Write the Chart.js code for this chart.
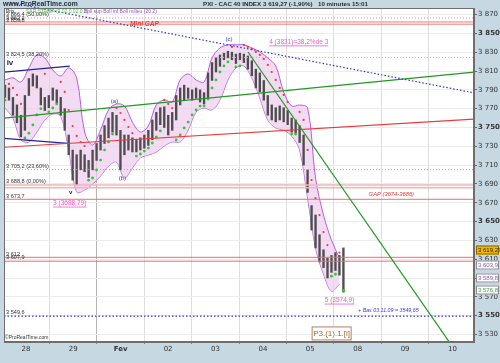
<!DOCTYPE html>
<html>
<head>
<meta charset="utf-8">
<title>PXI - CAC 40 INDEX 10 minutes</title>
<script src="https://cdn.jsdelivr.net/npm/chart.js@4.4.1/dist/chart.umd.min.js"></script>
<style>
  html, body { margin: 0; padding: 0; background: #c6d9e2; }
  canvas { display: block; }
</style>
</head>
<body>
<canvas id="chart" width="500" height="363"></canvas>
<script>
// CAC 40 (PXI) en 10 minutes, du 28 janv. au 05 fev. 15:01
// axe x = jours de bourse depuis le 28 (0 = 28, 1 = 29, 2 = Fev ...)

const dayLabels = ['28', '29', 'Fev', '02', '03', '04', '05', '08', '09', '10'];
const xMin = -0.462, xMax = 9.454;
const yMin = 3522, yMax = 3877;

// prix : plus haut / plus bas par pas de temps
const barStart = -0.441;
const barStep = 0.084;
const highs = [3795, 3792, 3782, 3774, 3763, 3784, 3802, 3807, 3805, 3792,
  3782, 3784, 3792, 3790, 3782, 3770, 3742, 3726, 3721, 3726,
  3721, 3715, 3726, 3733, 3742, 3752, 3760, 3766, 3763, 3747,
  3742, 3742, 3739, 3737, 3739, 3742, 3747, 3758, 3766, 3771,
  3772, 3763, 3766, 3784, 3792, 3795, 3792, 3790, 3792, 3790,
  3787, 3808, 3819, 3824, 3827, 3829, 3831, 3830, 3828, 3829,
  3828, 3826, 3821, 3812, 3808, 3800, 3784, 3774, 3771, 3773,
  3771, 3768, 3760, 3758, 3752, 3742, 3705, 3667, 3657, 3636,
  3620, 3611, 3614, 3617, 3614, 3622];
const lows = [3782, 3779, 3763, 3755, 3740, 3747, 3784, 3794, 3792, 3774,
  3768, 3771, 3779, 3776, 3763, 3747, 3721, 3694, 3689, 3705,
  3703, 3697, 3705, 3715, 3726, 3733, 3739, 3745, 3742, 3705,
  3721, 3726, 3724, 3724, 3726, 3728, 3731, 3737, 3747, 3753,
  3750, 3742, 3747, 3758, 3774, 3779, 3781, 3779, 3781, 3777,
  3775, 3781, 3800, 3809, 3815, 3822, 3824, 3822, 3818, 3822,
  3819, 3812, 3805, 3792, 3788, 3779, 3763, 3758, 3756, 3758,
  3756, 3753, 3745, 3744, 3734, 3710, 3681, 3641, 3622, 3607,
  3601, 3590, 3596, 3598, 3593, 3575];

// Bollinger (20,2), un point tous les deux pas
const bollSup = [3800.5, 3802.7, 3798.4, 3813.3, 3827.1, 3823.9, 3811.2, 3804.8, 3813.3, 3802.7,
  3745.2, 3731.4, 3747.3, 3768.6, 3775.0, 3772.8, 3755.8, 3745.2, 3751.6, 3773.9,
  3779.3, 3777.1, 3800.5, 3806.9, 3800.5, 3798.4, 3823.9, 3834.6, 3837.8, 3837.8,
  3837.8, 3834.6, 3830.3, 3823.9, 3815.4, 3787.7, 3772.8, 3773.9, 3770.7, 3696.3,
  3656.9, 3630.3, 3611.2];
const bollInf = [3770.7, 3760.1, 3736.7, 3734.6, 3745.2, 3758.0, 3764.4, 3762.2, 3726.1, 3681.4,
  3683.5, 3689.9, 3698.4, 3709.0, 3713.3, 3696.3, 3706.9, 3717.6, 3720.7, 3723.9,
  3730.3, 3734.6, 3734.6, 3747.3, 3766.5, 3770.7, 3768.6, 3779.3, 3800.5, 3813.3,
  3815.4, 3802.7, 3781.4, 3758.0, 3749.5, 3747.3, 3740.9, 3726.1, 3675.0, 3621.8,
  3594.1, 3576.0, 3583.5];

// SAR parabolique (0.02 0.02 0.2)
const sar = [3779, 3796.3, 3792, 3784.6, 3775, 3738.8, 3744, 3752.7, 3763.3, 3770,
  3807, 3766.5, 3770.7, 3775, 3798.4, 3787.8, 3768.6, 3751.6, 3741, 3734.6,
  3730.3, 3694, 3696.3, 3704.8, 3715.4, 3726.1, 3734.6, 3743, 3770.7, 3765.4,
  3758, 3750.5, 3744, 3719.6, 3721.8, 3724.9, 3728.1, 3733.5, 3739.9, 3746.3,
  3779.3, 3775, 3770.7, 3736.7, 3742, 3749.5, 3755.8, 3763.3, 3768.6, 3772.8,
  3773, 3780.3, 3792, 3800.5, 3809, 3815.4, 3819.7, 3835.6, 3814.4, 3815.4,
  3837.8, 3835.6, 3833.5, 3830.3, 3827.1, 3822.9, 3816.5, 3809, 3800.5, 3792,
  3784.6, 3777.1, 3743, 3743, 3766.5, 3758, 3726.1, 3694.1, 3675, 3656.9,
  3638.8, 3625, 3592, 3594, 3617, 3576.8];

// niveaux horizontaux
const levelValues = [3866.4, 3862.2, 3859.8, 3824.5, 3705.2, 3688.8, 3686, 3673.7, 3612, 3607.9, 3549.6];
const levelLabels = ['3 866,4 (50,00%)', '3 862,2', '3 859,8', '3 824,5 (38,20%)', '3 705,2 (23,60%)',
  '3 688,8 (0,00%)', '', '3 673,7', '3 612', '3 607,9', '3 549,6'];

// droites de tendance (jour debut, jour fin) / (prix debut, prix fin)
const trendDays = [[-0.336, 9.454], [-0.462, 9.454], [-0.462, 9.454], [4.685, 8.946], [-0.462, 0.924], [-0.462, 0.882]];
const trendPrices = [[3882.9, 3786.8], [3759.9, 3808.9], [3729, 3758.8], [3830.2, 3521], [3808.9, 3815.3], [3738.5, 3733.2]];

// textes sur le graphique
const noteTexts = ['(c)', '(a)', '(b)', 'iv', 'v', '3 (3688,79)', '4 (3831)=38,2%de 3', '5 (3574,9)',
  'GAP (3674-3686)', 'Mini GAP', '+ Bas 03.11.09 = 3549,65'];
const noteDays = [4.286, 1.870, 2.038, -0.336, 0.945, 0.924, 5.756, 6.618, 7.710, 2.5, 7.647];
const notePrices = [3844.1, 3778.2, 3696.1, 3818.6, 3680.9, 3669.6, 3840.9, 3566.5, 3679.3, 3860.1, 3555.6];

// valeurs courantes sur l'axe de droite
const lastValues = [3619.27, 3603.9, 3589.8, 3576.8];
const lastLabels = ['3 619,27', '3 603,9', '3 589,8', '3 576,8'];

// ---- styles ----
const levelStyles = [
  { color: '#ff7cc4', dash: [1, 2], width: 1 },
  { color: '#f07878', dash: [], width: 1 },
  { color: '#f07878', dash: [], width: 1 },
  { color: '#ff8ccc', dash: [1, 2], width: 1 },
  { color: '#d49a5a', dash: [1, 2], width: 1 },
  { color: '#f5b3b3', dash: [], width: 1.5 },
  { color: '#f5b3b3', dash: [], width: 1.5 },
  { color: '#f06c6c', dash: [], width: 1 },
  { color: '#f06c6c', dash: [], width: 1 },
  { color: '#f06c6c', dash: [], width: 1 },
  { color: '#2f2fe6', dash: [1.5, 2], width: 1.2 }
];
const trendStyles = [
  { color: '#3434c8', dash: [1.5, 2], width: 1.2 },
  { color: '#1f9a1f', dash: [], width: 1.2 },
  { color: '#e83c3c', dash: [], width: 1.2 },
  { color: '#1f9a1f', dash: [], width: 1.2 },
  { color: '#22229a', dash: [], width: 1.2 },
  { color: '#22229a', dash: [], width: 1.2 }
];
const pink = '#f25cc0';
const noteStyles = [
  { font: '6px "Liberation Sans"', color: '#3444b8' },
  { font: '6px "Liberation Sans"', color: '#3444b8' },
  { font: '6px "Liberation Sans"', color: '#3444b8' },
  { font: 'bold 8px "Liberation Sans"', color: '#1c1c60' },
  { font: 'bold 6px "Liberation Sans"', color: '#222' },
  { font: '6.5px "Liberation Sans"', color: pink, underline: true },
  { font: '6.5px "Liberation Sans"', color: pink, underline: true },
  { font: '6.5px "Liberation Sans"', color: pink, underline: true },
  { font: 'italic 5.8px "Liberation Sans"', color: '#e03a3a' },
  { font: 'italic bold 6.5px "Liberation Sans"', color: '#e83a3a' },
  { font: 'italic 5.3px "Liberation Sans"', color: '#3a3ae0' }
];
const lastStyles = [
  { fill: '#f2b600', stroke: '#8a6a00', text: '#222' },
  { fill: '#fff', stroke: '#8a8a8a', text: '#a050c8' },
  { fill: '#fff', stroke: '#8a8a8a', text: '#a050c8' },
  { fill: '#fff', stroke: '#8a8a8a', text: '#3aa83a' }
];

function fmt(v) { return String(v).replace(/\B(?=(\d{3})+(?!\d))/g, ' '); }

// ---- jeux de donnees ----
const datasets = [];

datasets.push({
  type: 'line', label: 'Boll sup', order: 20,
  data: bollSup.map((v, k) => ({ x: barStart + 2 * k * barStep, y: v })),
  borderColor: '#b45ee0', borderWidth: 1, pointRadius: 0, tension: 0.35,
  fill: '+1', backgroundColor: 'rgba(240,204,240,0.7)'
});
datasets.push({
  type: 'line', label: 'Boll inf', order: 20,
  data: bollInf.map((v, k) => ({ x: barStart + 2 * k * barStep, y: v })),
  borderColor: '#b45ee0', borderWidth: 1, pointRadius: 0, tension: 0.35, fill: false
});

datasets.push({
  type: 'bar', label: 'Prix', order: 15,
  data: highs.map((h, i) => ({ x: barStart + i * barStep, y: [lows[i], h] })),
  backgroundColor: '#4e4e4e', barThickness: 1.7, borderWidth: 0, grouped: false
});

const sarGreen = sar.map((v, i) => v < (highs[i] + lows[i]) / 2);
datasets.push({
  type: 'line', label: 'SAR', order: 12, showLine: false,
  data: sar.map((v, i) => ({ x: barStart + i * barStep, y: v })),
  pointRadius: sarGreen.map(g => g ? 1.4 : 1.1),
  pointBackgroundColor: sarGreen.map(g => g ? '#2ccc2c' : '#ea3c3c'),
  pointBorderWidth: 0
});

levelValues.forEach((v, i) => {
  const st = levelStyles[i];
  datasets.push({
    type: 'line', label: 'niveau ' + i, order: 10,
    data: [{ x: xMin, y: v }, { x: xMax, y: v }],
    borderColor: st.color, borderDash: st.dash, borderWidth: st.width, pointRadius: 0
  });
});

trendDays.forEach((d, i) => {
  const st = trendStyles[i];
  datasets.push({
    type: 'line', label: 'tendance ' + i, order: 5,
    data: [{ x: d[0], y: trendPrices[i][0] }, { x: d[1], y: trendPrices[i][1] }],
    borderColor: st.color, borderDash: st.dash, borderWidth: st.width, pointRadius: 0,
    clip: i === 0 ? { left: 0, top: 8, right: 0, bottom: 0 } : 0
  });
});

// ---- dessins hors Chart.js (fond, textes, cartouches) ----
const overlay = {
  id: 'overlay',
  beforeDraw(chart) {
    const { ctx, chartArea: a } = chart;
    ctx.save();
    ctx.fillStyle = '#c6d9e2';
    ctx.fillRect(0, 0, chart.width, chart.height);
    ctx.fillStyle = '#ffffff';
    ctx.fillRect(a.left, a.top, a.right - a.left, a.bottom - a.top);
    ctx.restore();
  },
  afterDatasetsDraw(chart) {
    const { ctx, chartArea: a, scales: { x, y } } = chart;
    ctx.save();
    // libelles des niveaux a gauche
    ctx.font = '5.6px "Liberation Sans"';
    ctx.fillStyle = '#333';
    ctx.textAlign = 'left';
    ctx.textBaseline = 'bottom';
    levelValues.forEach((v, i) => {
      if (levelLabels[i]) ctx.fillText(levelLabels[i], a.left + 2, y.getPixelForValue(v) - 0.5);
    });

    // notes
    ctx.textAlign = 'center';
    ctx.textBaseline = 'middle';
    noteTexts.forEach((s, i) => {
      const st = noteStyles[i];
      const px = x.getPixelForValue(noteDays[i]);
      const py = y.getPixelForValue(notePrices[i]);
      ctx.font = st.font;
      ctx.fillStyle = st.color;
      ctx.fillText(s, px, py);
      if (st.underline) {
        const w = ctx.measureText(s).width;
        ctx.fillRect(px - w / 2, py + 3.5, w, 0.8);
      }
    });

    // cartouche P3
    const bx = x.getPixelForValue(6.45), by = y.getPixelForValue(3531.1);
    ctx.fillStyle = '#fff';
    ctx.fillRect(bx - 20, by - 7, 40, 14);
    ctx.strokeStyle = '#b08060';
    ctx.lineWidth = 1;
    ctx.strokeRect(bx - 19.5, by - 6.5, 39, 13);
    ctx.font = '8px "Liberation Sans"';
    ctx.fillStyle = '#a3682a';
    ctx.fillText('P3.(1).1.[i]', bx, by + 0.5);

    // copyright
    ctx.font = '5px "Liberation Sans"';
    ctx.fillStyle = '#333';
    ctx.textAlign = 'left';
    ctx.fillText('\u00a9ProRealTime.com', a.left + 1, a.bottom - 4);
    ctx.restore();
  },
  afterDraw(chart) {
    const { ctx, chartArea: a, scales: { y } } = chart;
    ctx.save();
    // cadre
    ctx.strokeStyle = '#6e6e6e';
    ctx.lineWidth = 1;
    ctx.strokeRect(a.left + 0.5, a.top + 0.5, a.right - a.left - 1, a.bottom - a.top - 1);

    // bandeau
    ctx.textBaseline = 'middle';
    ctx.textAlign = 'left';
    ctx.fillStyle = '#1d2833';
    ctx.font = 'bold 6.8px "Liberation Sans"';
    ctx.fillText('www.ProRealTime.com', 3, 4.5);
    ctx.font = 'bold 6.2px "Liberation Sans"';
    ctx.fillText('PXI - CAC 40 INDEX', 203, 4.5);
    ctx.fillText('3 619,27 (-1,90%)', 263, 4.5);
    ctx.fillText('10 minutes', 318, 4.5);
    ctx.fillText('15:01', 352, 4.5);

    // legende
    ctx.font = '5px "Liberation Sans"';
    ctx.fillStyle = '#222';
    ctx.fillText('Prix', a.left + 2, a.top + 3.5);
    ctx.fillStyle = '#3fbf3f';
    ctx.fillText('SAR STAMP (0.02 0.02 0.2)', a.left + 22, a.top + 3.5);
    ctx.fillStyle = '#9a50d8';
    ctx.fillText('Boll sup Boll inf Boll milieu (20 2)', a.left + 80, a.top + 3.5);

    // valeurs courantes
    ctx.font = '6px "Liberation Sans"';
    lastValues.forEach((v, i) => {
      const st = lastStyles[i];
      const py = Math.round(y.getPixelForValue(v));
      ctx.fillStyle = st.fill;
      ctx.fillRect(a.right + 2, py - 4.5, 23, 9);
      ctx.strokeStyle = st.stroke;
      ctx.strokeRect(a.right + 2.5, py - 4, 22, 8);
      ctx.fillStyle = st.text;
      ctx.fillText(lastLabels[i], a.right + 4, py + 0.5);
    });
    ctx.restore();
  }
};

new Chart(document.getElementById('chart'), {
  type: 'bar',
  data: { datasets },
  options: {
    responsive: false,
    animation: false,
    devicePixelRatio: 1,
    layout: { padding: { left: 2, top: 8, right: 0, bottom: 0 } },
    plugins: { legend: { display: false }, tooltip: { enabled: false } },
    scales: {
      x: {
        type: 'linear', min: xMin, max: xMax, offset: false,
        afterBuildTicks: s => { s.ticks = dayLabels.map((_, i) => ({ value: i })); },
        afterFit: s => { s.height = 21; },
        grid: {
          color: c => (c.tick && c.tick.value === 2 ? '#b4b4b4' : '#dedede'),
          tickLength: 2, tickColor: '#888'
        },
        border: { color: '#6e6e6e' },
        ticks: {
          autoSkip: false, maxRotation: 0, padding: 1, color: '#333',
          font: c => ({ family: 'DejaVu Sans', size: 7, weight: c.tick && c.tick.value === 2 ? 'bold' : 'normal' }),
          callback: v => dayLabels[v]
        }
      },
      y: {
        position: 'right', min: yMin, max: yMax,
        afterBuildTicks: s => {
          const t = [];
          for (let v = 3530; v <= 3870; v += 10) t.push({ value: v });
          s.ticks = t;
        },
        afterFit: s => { s.width = 26; },
        grid: { color: '#ececec', tickLength: 3, tickColor: '#666' },
        border: { color: '#6e6e6e' },
        ticks: {
          padding: 1, color: '#333',
          font: c => ({ family: 'DejaVu Sans', size: 7, weight: c.tick && c.tick.value % 50 === 0 ? 'bold' : 'normal' }),
          callback: v => fmt(v)
        }
      }
    }
  },
  plugins: [overlay]
});
</script>
</body>
</html>
